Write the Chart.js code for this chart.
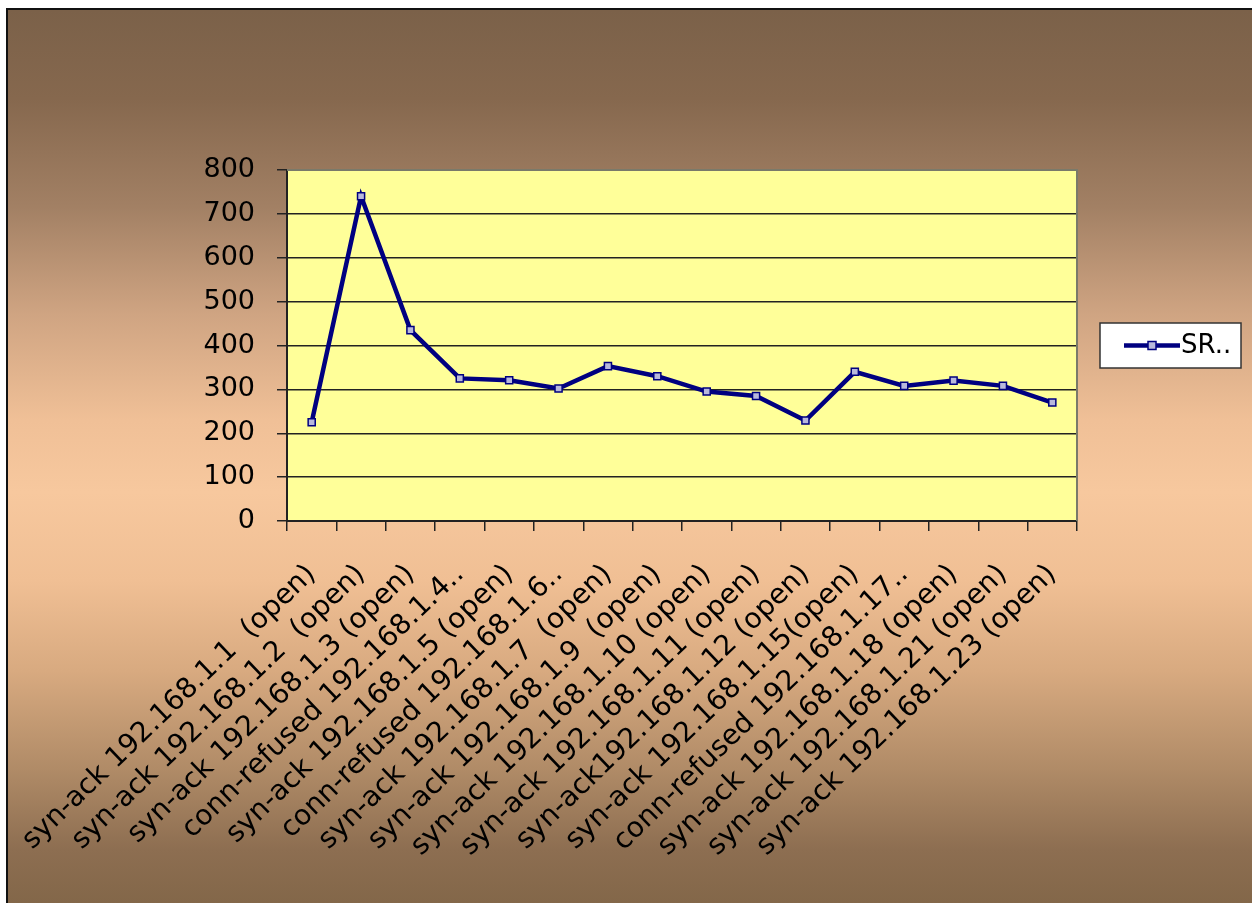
<!DOCTYPE html>
<html>
<head>
<meta charset="utf-8">
<script src="https://cdn.jsdelivr.net/npm/chart.js@4.4.1/dist/chart.umd.min.js"></script>
<style>
  html, body { margin: 0; padding: 0; background: #ffffff; }
  #bg {
    position: absolute; left: 6px; top: 8px; width: 1246px; height: 895px;
    border-left: 2px solid #111; border-top: 2px solid #111; box-sizing: border-box;
    background: linear-gradient(to bottom,
      #7b6149 0%, #86684e 10%, #a28064 22%, #cfa482 34%, #f0c097 46%, #f7c89e 54%,
      #f0bf94 64%, #d8aa80 74%, #b08b67 85%, #8d6e51 94%, #836749 100%);
  }
  #wrap { position: absolute; left: 0; top: 0; width: 1252px; height: 903px; }
</style>
</head>
<body>
<div id="bg"></div>
<div id="wrap"><canvas id="c" width="1252" height="903"></canvas></div>
<script>
const categories = [
  "syn-ack 192.168.1.1  (open)",
  "syn-ack 192.168.1.2  (open)",
  "syn-ack 192.168.1.3 (open)",
  "conn-refused 192.168.1.4..",
  "syn-ack 192.168.1.5 (open)",
  "conn-refused 192.168.1.6..",
  "syn-ack 192.168.1.7  (open)",
  "syn-ack 192.168.1.9  (open)",
  "syn-ack 192.168.1.10 (open)",
  "syn-ack 192.168.1.11 (open)",
  "syn-ack192.168.1.12 (open)",
  "syn-ack 192.168.1.15(open)",
  "conn-refused 192.168.1.17..",
  "syn-ack 192.168.1.18 (open)",
  "syn-ack 192.168.1.21 (open)",
  "syn-ack 192.168.1.23 (open)"
];
const seriesName = "SR..";
const seriesValues = [225, 740, 435, 325, 321, 302, 353, 330, 295, 285, 229, 340, 308, 320, 308, 270];
const yTicks = [0, 100, 200, 300, 400, 500, 600, 700, 800];

const FONT = "'DejaVu Sans', 'Liberation Sans', Arial, sans-serif";

const plotBg = {
  id: 'plotBg',
  beforeDraw(chart) {
    const {ctx, chartArea: a} = chart;
    ctx.save();
    ctx.fillStyle = '#ffff99';
    ctx.fillRect(a.left, a.top, a.right - a.left, a.bottom - a.top);
    ctx.restore();
  },
  afterDatasetsDraw(chart) {
    const {ctx, chartArea: a} = chart;
    ctx.save();
    ctx.strokeStyle = '#7a7a6a';
    ctx.lineWidth = 2;
    ctx.beginPath();
    ctx.moveTo(a.left, a.top);
    ctx.lineTo(a.right, a.top);
    ctx.lineTo(a.right, a.bottom);
    ctx.stroke();
    ctx.restore();
  }
};

const legendBox = {
  id: 'legendBox',
  afterDraw(chart) {
    const ctx = chart.ctx;
    const ds = chart.data.datasets[0];
    const x = 1100, y = 323, w = 141, h = 45;
    ctx.save();
    ctx.fillStyle = '#ffffff';
    ctx.fillRect(x, y, w, h);
    ctx.strokeStyle = '#333';
    ctx.lineWidth = 1.5;
    ctx.strokeRect(x, y, w, h);
    const my = y + h / 2;
    ctx.strokeStyle = ds.borderColor;
    ctx.lineWidth = 4.5;
    ctx.beginPath();
    ctx.moveTo(x + 24, my);
    ctx.lineTo(x + 80, my);
    ctx.stroke();
    ctx.fillStyle = ds.pointBackgroundColor;
    ctx.strokeStyle = ds.borderColor;
    ctx.lineWidth = 1.5;
    ctx.fillRect(x + 48, my - 4, 8, 8);
    ctx.strokeRect(x + 48, my - 4, 8, 8);
    ctx.fillStyle = '#000';
    ctx.font = '26px ' + FONT;
    ctx.textBaseline = 'middle';
    ctx.textAlign = 'left';
    ctx.fillText(ds.label, x + 81, my + 1);
    ctx.restore();
  }
};

new Chart(document.getElementById('c'), {
  type: 'line',
  data: {
    labels: categories,
    datasets: [{
      label: seriesName,
      data: seriesValues,
      borderColor: '#000080',
      borderWidth: 4.5,
      pointStyle: 'rect',
      pointRadius: 5,
      pointBackgroundColor: '#b8b8dc',
      pointBorderColor: '#000080',
      pointBorderWidth: 1.5,
      tension: 0,
      fill: false
    }]
  },
  options: {
    responsive: false,
    animation: false,
    events: [],
    layout: { padding: { left: 0, top: 170, right: 175, bottom: 0 } },
    plugins: { legend: { display: false }, tooltip: { enabled: false } },
    scales: {
      x: {
        type: 'category',
        offset: true,
        grid: {
          offset: true,
          drawOnChartArea: false,
          drawTicks: true,
          tickLength: 10,
          color: '#222',
          lineWidth: 1.5
        },
        border: { display: true, color: '#222', width: 2 },
        ticks: {
          autoSkip: false,
          minRotation: 44,
          maxRotation: 44,
          padding: 27,
          color: '#000',
          font: { family: FONT, size: 28 }
        },
        afterFit(scale) {
          scale.height = 903 - 521;
          scale.paddingLeft = 0;
          scale.paddingRight = 0;
        }
      },
      y: {
        min: 0,
        max: 800,
        afterBuildTicks(scale) { scale.ticks = yTicks.map(v => ({ value: v })); },
        grid: {
          drawOnChartArea: true,
          drawTicks: true,
          tickLength: 10,
          color: '#222',
          lineWidth: 1.5
        },
        border: { display: true, color: '#222', width: 2 },
        ticks: {
          padding: 22,
          color: '#000',
          font: { family: FONT, size: 27 }
        },
        afterFit(scale) {
          scale.width = 287;
          scale.paddingTop = 0;
          scale.paddingBottom = 0;
        }
      }
    }
  },
  plugins: [plotBg, legendBox]
});
</script>
</body>
</html>
